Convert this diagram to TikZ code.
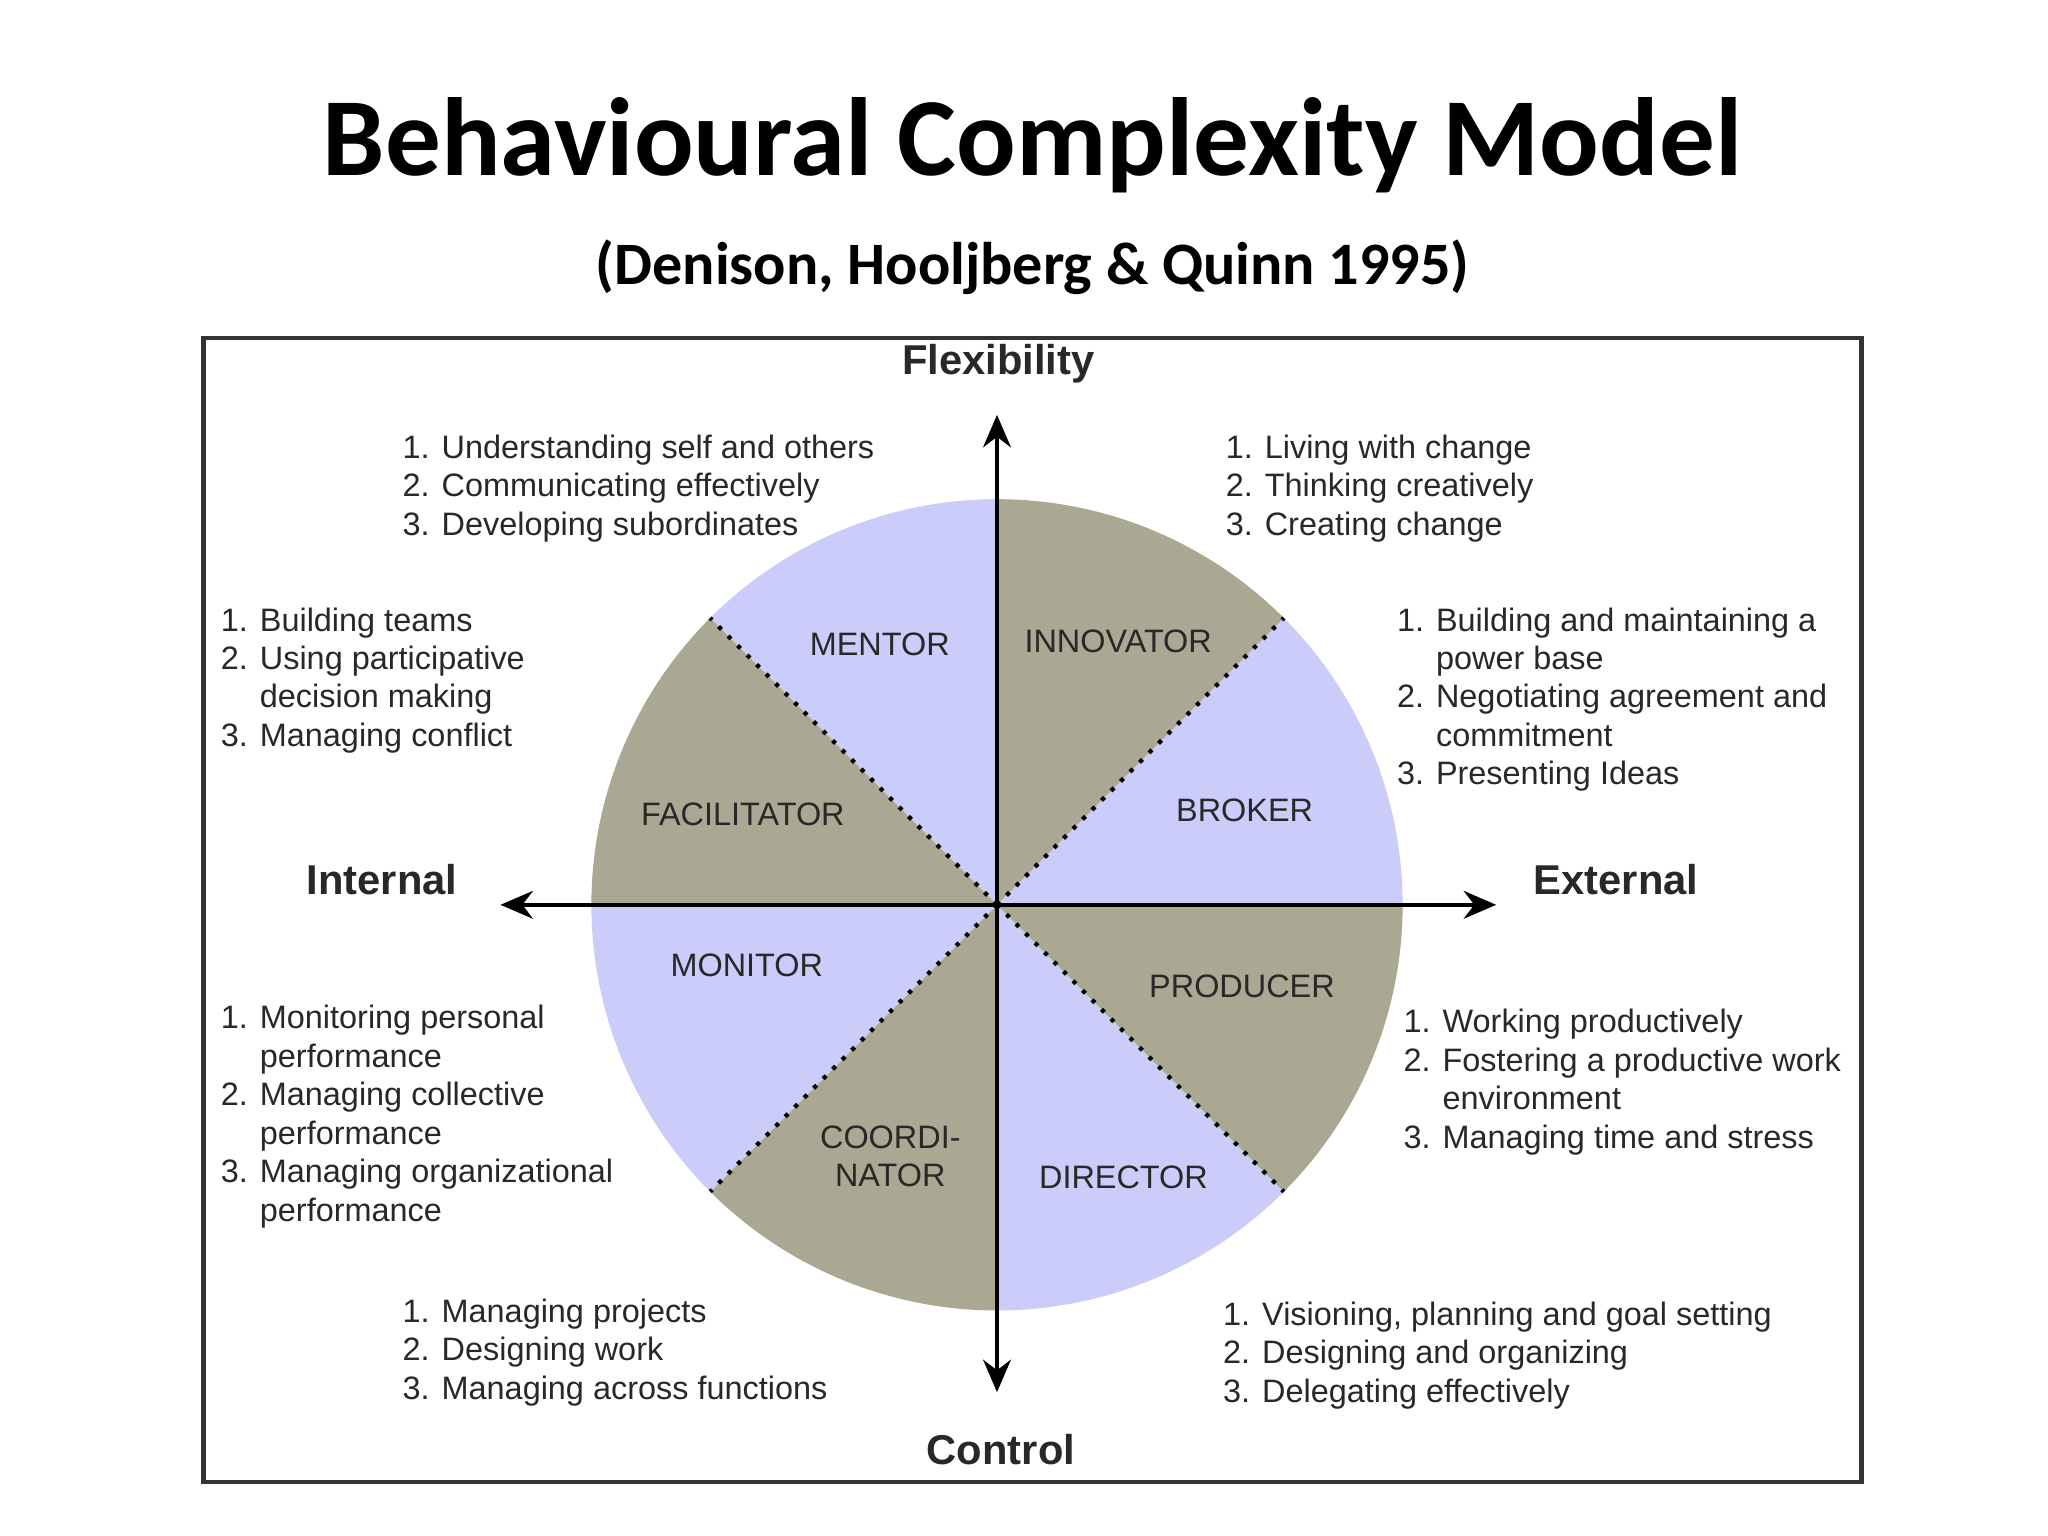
\documentclass[tikz,border=0pt]{standalone}
\usepackage{fontspec}
\setmainfont{Liberation Sans}
\newfontfamily\titlefont{Carlito}
\usetikzlibrary{arrows.meta}
\definecolor{olv}{RGB}{204,204,250}
\definecolor{lav}{RGB}{170,167,147}
\definecolor{txt}{RGB}{40,40,40}
\tikzset{
  lst/.style={anchor=north west,inner sep=0pt,font=\fontsize{7}{8.3}\selectfont,text=txt},
  role/.style={inner sep=0pt,font=\fontsize{7}{8.3}\selectfont,text=txt,align=center},
  axlab/.style={inner sep=0pt,font=\bfseries\fontsize{9}{10}\selectfont,text=txt},
  axis/.style={line width=0.9pt,{Stealth[length=7pt,width=6pt]}-{Stealth[length=7pt,width=6pt]}},
  sep/.style={line width=0.9pt,dotted}
}
\newcommand{\li}[2]{#1.&#2\\}
\begin{document}
\begin{tikzpicture}[x=0.01cm,y=-0.01cm]
\useasboundingbox[fill=white] (0,0) rectangle (1555,1166);
\node[inner sep=0pt,font=\titlefont\bfseries\fontsize{24}{28}\selectfont] (title) at (784,110) {Behavioural Complexity Model};
\node[inner sep=0pt,font=\titlefont\bfseries\fontsize{13}{16}\selectfont] (sub) at (784,203) {(Denison, Hooljberg \& Quinn 1995)};
\node[draw=black!80,line width=1pt,minimum width=12.58cm,minimum height=8.68cm,inner sep=0pt] (frame) at (784,691) {};
\coordinate (c) at (757,687);
\def\R{308}
\fill[lav] (c) -- +(90:\R) arc[start angle=90,end angle=135,radius=\R] -- cycle;
\fill[olv] (c) -- +(45:\R) arc[start angle=45,end angle=90,radius=\R] -- cycle;
\fill[lav] (c) -- +(0:\R) arc[start angle=0,end angle=45,radius=\R] -- cycle;
\fill[olv] (c) -- +(-45:\R) arc[start angle=-45,end angle=0,radius=\R] -- cycle;
\fill[lav] (c) -- +(-90:\R) arc[start angle=-90,end angle=-45,radius=\R] -- cycle;
\fill[olv] (c) -- +(-135:\R) arc[start angle=-135,end angle=-90,radius=\R] -- cycle;
\fill[lav] (c) -- +(180:\R) arc[start angle=180,end angle=225,radius=\R] -- cycle;
\fill[olv] (c) -- +(135:\R) arc[start angle=135,end angle=180,radius=\R] -- cycle;
\foreach \a in {45,135,225,315}{\draw[sep] (c) -- +(\a:\R);}
\coordinate (top) at (757,315); \coordinate (bot) at (757,1057);
\coordinate (lft) at (380,687); \coordinate (rgt) at (1136,687);
\draw[axis] (bot) -- (top);
\draw[axis] (lft) -- (rgt);
\node[axlab] (flex) at (758,276) {Flexibility};
\node[axlab] (ctrl) at (760,1101) {Control};
\node[axlab] (int) at (290,668) {Internal};
\node[axlab] (ext) at (1227,668) {External};
\node[role] (mentor) at (668,489) {MENTOR};
\node[role] (innov) at (849,487) {INNOVATOR};
\node[role] (broker) at (945,615) {BROKER};
\node[role] (prod) at (943,749) {PRODUCER};
\node[role] (dir) at (853,894) {DIRECTOR};
\node[role] (coord) at (676,878) {COORDI-\\NATOR};
\node[role] (mon) at (567,733) {MONITOR};
\node[role] (fac) at (564,618) {FACILITATOR};
\node[lst] (lm) at (305,327) {\begin{tabular}{@{}r@{ }l@{}}\li{1}{Understanding self and others}\li{2}{Communicating effectively}\li{3}{Developing subordinates}\end{tabular}};
\node[lst] (li) at (930,327) {\begin{tabular}{@{}r@{ }l@{}}\li{1}{Living with change}\li{2}{Thinking creatively}\li{3}{Creating change}\end{tabular}};
\node[lst] (lb) at (1060,458) {\begin{tabular}{@{}r@{ }l@{}}\li{1}{Building and maintaining a}&power base\\\li{2}{Negotiating agreement and}&commitment\\\li{3}{Presenting Ideas}\end{tabular}};
\node[lst] (lf) at (167,458) {\begin{tabular}{@{}r@{ }l@{}}\li{1}{Building teams}\li{2}{Using participative}&decision making\\\li{3}{Managing conflict}\end{tabular}};
\node[lst] (lmo) at (167,760) {\begin{tabular}{@{}r@{ }l@{}}\li{1}{Monitoring personal}&performance\\\li{2}{Managing collective}&performance\\\li{3}{Managing organizational}&performance\\\end{tabular}};
\node[lst] (lp) at (1065,763) {\begin{tabular}{@{}r@{ }l@{}}\li{1}{Working productively}\li{2}{Fostering a productive work}&environment\\\li{3}{Managing time and stress}\end{tabular}};
\node[lst] (lc) at (305,983) {\begin{tabular}{@{}r@{ }l@{}}\li{1}{Managing projects}\li{2}{Designing work}\li{3}{Managing across functions}\end{tabular}};
\node[lst] (ld) at (928,985) {\begin{tabular}{@{}r@{ }l@{}}\li{1}{Visioning, planning and goal setting}\li{2}{Designing and organizing}\li{3}{Delegating effectively}\end{tabular}};
\end{tikzpicture}
\end{document}
